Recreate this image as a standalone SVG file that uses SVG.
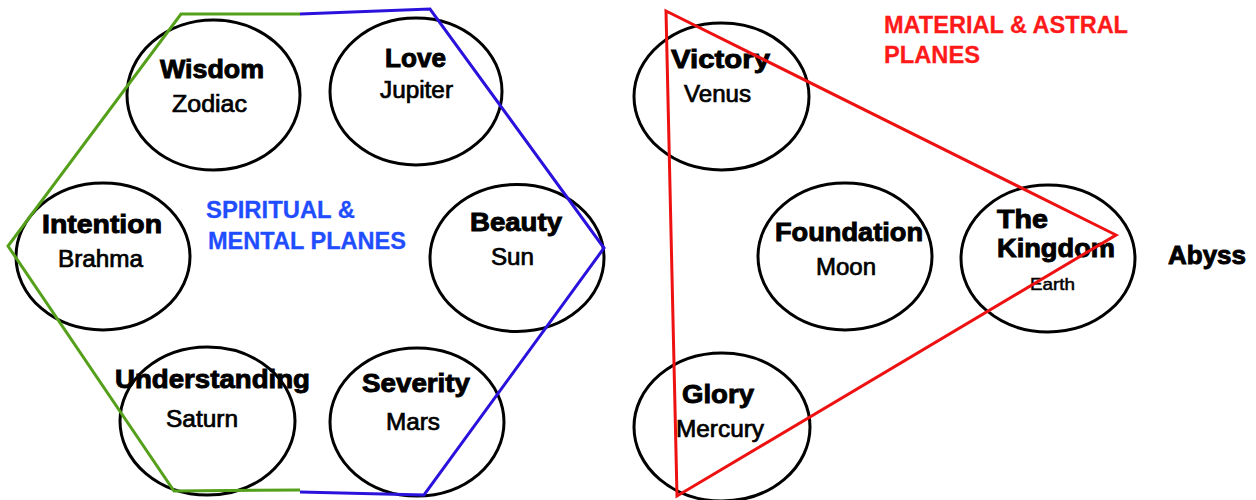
<svg xmlns="http://www.w3.org/2000/svg" width="1256" height="500" viewBox="0 0 1256 500">
<style>
.node ellipse{fill:none;stroke:#000;stroke-width:3}
.b{font-family:"Liberation Sans",Arial,sans-serif;font-weight:bold;font-size:25px;fill:#000;stroke:#000;stroke-width:0.9}
.r{font-family:"Liberation Sans",Arial,sans-serif;font-size:23px;fill:#000;stroke:#000;stroke-width:0.7}
.s{font-family:"Liberation Sans",Arial,sans-serif;font-size:17px;fill:#000;stroke:#000;stroke-width:0.5}
.blue{font-family:"Liberation Sans",Arial,sans-serif;font-weight:bold;font-size:24px;fill:#1f4dff;stroke:#1f4dff;stroke-width:0.3}
.red{font-family:"Liberation Sans",Arial,sans-serif;font-weight:bold;font-size:24px;fill:#ff1a1a;stroke:#ff1a1a;stroke-width:0.3}
.edge{fill:none;stroke-width:3;stroke-linejoin:miter}
</style>
<rect width="1256" height="500" fill="#fff"/>
<g id="wisdom" class="node"><ellipse cx="213.5" cy="95" rx="86.5" ry="75"/><text class="b" x="160" y="78" textLength="104" lengthAdjust="spacingAndGlyphs">Wisdom</text><text class="r" x="172" y="112" textLength="75" lengthAdjust="spacingAndGlyphs">Zodiac</text></g>
<g id="love" class="node"><ellipse cx="416" cy="91.5" rx="86" ry="73.5"/><text class="b" x="385" y="67" textLength="61" lengthAdjust="spacingAndGlyphs">Love</text><text class="r" x="380" y="98" textLength="73" lengthAdjust="spacingAndGlyphs">Jupiter</text></g>
<g id="intention" class="node"><ellipse cx="103" cy="256.5" rx="87" ry="73.5"/><text class="b" x="42" y="233" textLength="120" lengthAdjust="spacingAndGlyphs">Intention</text><text class="r" x="58" y="267" textLength="85" lengthAdjust="spacingAndGlyphs">Brahma</text></g>
<g id="beauty" class="node"><ellipse cx="517" cy="258" rx="87" ry="73.5"/><text class="b" x="470" y="231" textLength="92" lengthAdjust="spacingAndGlyphs">Beauty</text><text class="r" x="491" y="265" textLength="43" lengthAdjust="spacingAndGlyphs">Sun</text></g>
<g id="understanding" class="node"><ellipse cx="207.5" cy="421" rx="87.5" ry="74"/><text class="b" x="115" y="388" textLength="195" lengthAdjust="spacingAndGlyphs">Understanding</text><text class="r" x="166" y="427" textLength="72" lengthAdjust="spacingAndGlyphs">Saturn</text></g>
<g id="severity" class="node"><ellipse cx="417" cy="422" rx="87" ry="74"/><text class="b" x="362" y="392" textLength="108" lengthAdjust="spacingAndGlyphs">Severity</text><text class="r" x="386" y="430" textLength="54" lengthAdjust="spacingAndGlyphs">Mars</text></g>
<g id="victory" class="node"><ellipse cx="721.5" cy="96.5" rx="87.5" ry="73.5"/><text class="b" x="671" y="68" textLength="99" lengthAdjust="spacingAndGlyphs">Victory</text><text class="r" x="684" y="102" textLength="67" lengthAdjust="spacingAndGlyphs">Venus</text></g>
<g id="foundation" class="node"><ellipse cx="845" cy="256.5" rx="87" ry="73.5"/><text class="b" x="775" y="241" textLength="148" lengthAdjust="spacingAndGlyphs">Foundation</text><text class="r" x="816" y="275" textLength="60" lengthAdjust="spacingAndGlyphs">Moon</text></g>
<g id="kingdom" class="node"><ellipse cx="1048" cy="258.5" rx="87" ry="73.5"/><text class="b" x="997" y="228" textLength="51" lengthAdjust="spacingAndGlyphs">The</text><text class="b" x="997" y="257" textLength="118" lengthAdjust="spacingAndGlyphs">Kingdom</text><text class="s" x="1030" y="290" textLength="45" lengthAdjust="spacingAndGlyphs">Earth</text></g>
<g id="glory" class="node"><ellipse cx="722" cy="427" rx="88" ry="74"/><text class="b" x="682" y="403" textLength="72" lengthAdjust="spacingAndGlyphs">Glory</text><text class="r" x="676" y="437" textLength="88" lengthAdjust="spacingAndGlyphs">Mercury</text></g>
<g id="abyss"><text class="b" x="1168" y="264" textLength="78" lengthAdjust="spacingAndGlyphs">Abyss</text></g>
<g id="labels">
<text class="blue" x="206" y="218" textLength="149" lengthAdjust="spacingAndGlyphs">SPIRITUAL &amp;</text>
<text class="blue" x="208" y="249" textLength="198" lengthAdjust="spacingAndGlyphs">MENTAL PLANES</text>
<text class="red" x="884" y="33" textLength="244" lengthAdjust="spacingAndGlyphs">MATERIAL &amp; ASTRAL</text>
<text class="red" x="884" y="63" textLength="96" lengthAdjust="spacingAndGlyphs">PLANES</text>
</g>
<g id="connectors">
<polyline class="edge" stroke="#55a01a" points="300,14 181,14 8,246 174,491 300,490"/>
<polyline class="edge" stroke="#2a12dc" points="300,14 430,9 604,248 424,495 300,492"/>
<polygon class="edge" stroke="#ee1111" points="666,11 1116,235 677,496"/>
</g>
</svg>
